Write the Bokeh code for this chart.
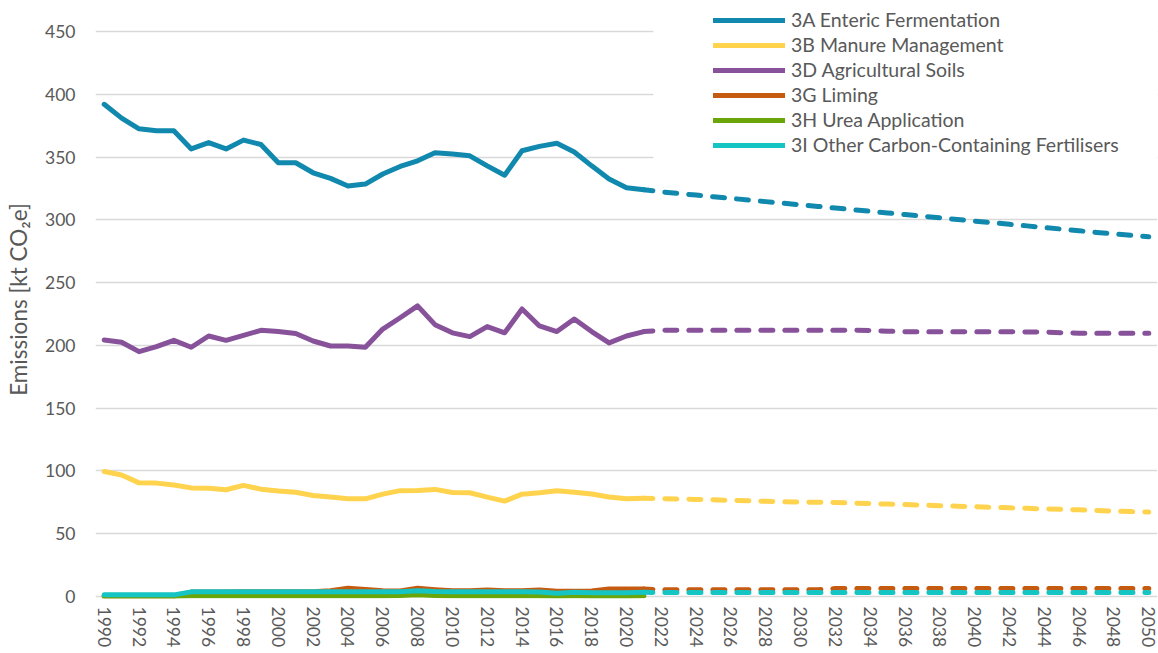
from bokeh.plotting import figure
from bokeh.models import Range1d, FixedTicker, Legend, LegendItem, BoxAnnotation
from bokeh.embed import file_html
from bokeh.resources import INLINE

# ---------------- data ----------------
hist_years = list(range(1990, 2022))
proj_years = list(range(2021, 2051))
tick_years = list(range(1990, 2051, 2))
y_ticks = [0, 50, 100, 150, 200, 250, 300, 350, 400, 450]

names = ["3A Enteric Fermentation", "3B Manure Management", "3D Agricultural Soils",
         "3G Liming", "3H Urea Application", "3I Other Carbon-Containing Fertilisers"]

enteric_hist = [392, 381, 372.5, 371, 371, 356.5, 361.5, 356.5, 363.5, 360, 345.5, 345.5,
                337.5, 333, 327, 328.5, 336.5, 342.5, 347, 353.5, 352.5, 351, 343, 335.5,
                355, 358.5, 361, 354, 343, 332.5, 325.5, 324]
enteric_proj = [324, 322.3, 321, 319.7, 318.4, 317.1, 315.8, 314.5, 313.2, 312, 310.7, 309.4,
                308.1, 306.8, 305.5, 304.2, 302.9, 301.6, 300.3, 299, 297.8, 296.5, 295.2,
                293.9, 292.6, 291.3, 290, 288.8, 287.6, 286.5]

manure_hist = [99.5, 96.8, 90.5, 90.3, 88.8, 86.5, 86.3, 85, 88.5, 85.5, 84, 83, 80.5, 79.3,
               77.8, 77.8, 81.5, 84.3, 84.5, 85.3, 82.8, 82.6, 79.2, 76, 81.5, 82.6, 84.2, 83,
               81.6, 79.2, 77.8, 78.2]
manure_proj = [78.2, 78, 77.6, 77.3, 77, 76.6, 76.2, 75.8, 75.4, 75.2, 75, 74.8, 74.4, 74,
               73.6, 73.2, 72.8, 72.3, 71.9, 71.5, 71.1, 70.6, 70.2, 69.8, 69.4, 69, 68.5, 68,
               67.6, 67.2]

soils_hist = [204.3, 202.5, 195, 199, 204, 198.5, 207.5, 204, 208, 212, 211, 209.5, 203.5,
              199.5, 199.5, 198.5, 213, 222, 231.5, 216.5, 210, 207, 215, 210, 229, 215.5,
              211, 221, 211, 202, 207.5, 211]
soils_proj = [211, 212.0, 212.1, 212.1, 212.1, 212.1, 212.1, 212.1, 212.1, 212.1, 212.1, 212.1,
              212.0, 211.9, 211.3, 210.9, 210.9, 210.9, 210.9, 210.8, 210.8, 210.8, 210.7,
              210.6, 210.1, 209.7, 209.7, 209.7, 209.7, 209.7]

liming_hist = [0.3, 0.3, 0.3, 0.3, 0.3, 3.5, 3.6, 3.6, 3.7, 3.7, 3.7, 3.7, 3.8, 4.5, 6.5, 5.5,
               4.6, 4.4, 6.5, 5.4, 4.6, 4.5, 5.2, 4.5, 4.5, 5.2, 4.2, 4.2, 4.3, 6, 6, 6]
liming_proj = [6, 5.3, 5.3, 5.3, 5.3, 5.3, 5.3, 5.3, 5.4, 5.4, 5.4, 6.3, 6.4, 6.4, 6.4, 6.4,
               6.4, 6.4, 6.4, 6.4, 6.4, 6.4, 6.4, 6.4, 6.4, 6.4, 6.4, 6.4, 6.4, 6.4]

urea_hist = [0.2, 0.2, 0.2, 0.2, 0.2, 0.6, 0.6, 0.6, 0.6, 0.6, 0.6, 0.6, 0.6, 0.6, 0.6, 0.6,
             0.6, 0.7, 1.3, 0.7, 0.6, 0.6, 0.6, 0.6, 0.6, 0.6, 0.4, 0.5, 0.4, 0.4, 0.4, 0.5]

other_hist = [1.3, 1.3, 1.3, 1.3, 1.3, 3.7, 3.8, 3.8, 3.8, 3.8, 3.8, 3.8, 3.8, 3.8, 3.8, 3.8,
              3.8, 3.8, 4.6, 3.9, 3.8, 3.8, 3.8, 3.8, 3.8, 3.6, 2.6, 3.4, 2.9, 2.9, 3.0, 3.3]
other_proj = [3.3, 3.2, 3.2, 3.2, 3.2, 3.2, 3.2, 3.2, 3.2, 3.2, 3.2, 3.2, 3.2, 3.2, 3.2, 3.2,
              3.2, 3.2, 3.2, 3.2, 3.2, 3.2, 3.2, 3.2, 3.2, 3.2, 3.2, 3.2, 3.2, 3.2]

colors = ["#1189AE", "#FFD34E", "#87529A", "#C55A11", "#6AA50A", "#14C5C4"]

# ---------------- figure ----------------
FONT = "Lato"
TXT = "#595959"

p = figure(frame_width=1062, frame_height=598, min_border_left=95, min_border_right=1,
           min_border_top=0, min_border_bottom=55,
           x_range=Range1d(1989.5, 2050.5), y_range=Range1d(-1.6, 474.7),
           output_backend="svg", toolbar_location=None)
p.outline_line_color = None
p.background_fill_color = "white"

p.xgrid.grid_line_color = None
p.ygrid.grid_line_color = "#D9D9D9"
p.ygrid.grid_line_width = 1.5
p.ygrid.ticker = FixedTicker(ticks=y_ticks)

p.yaxis.ticker = FixedTicker(ticks=y_ticks)
p.xaxis.ticker = FixedTicker(ticks=tick_years)
for ax in (p.xaxis[0], p.yaxis[0]):
    ax.axis_line_color = None
    ax.major_tick_line_color = None
    ax.minor_tick_line_color = None
    ax.major_tick_out = 0
    ax.major_tick_in = 0
    ax.major_label_text_font = FONT
    ax.major_label_text_font_size = "17.5px"
    ax.major_label_text_color = TXT
p.xaxis.major_label_orientation = "vertical"
p.xaxis.major_label_standoff = 8
p.yaxis.major_label_standoff = 20
p.yaxis.axis_label = "Emissions [kt CO\u2082e]"
p.yaxis.axis_label_text_font = FONT
p.yaxis.axis_label_text_font_size = "22.5px"
p.yaxis.axis_label_text_font_style = "normal"
p.yaxis.axis_label_text_color = TXT
p.yaxis.axis_label_standoff = 10

# white legend backdrop (covers gridlines like the original legend box)
backdrop = BoxAnnotation(left=558, right=1062, top=598, bottom=438,
                         left_units="screen", right_units="screen",
                         top_units="screen", bottom_units="screen",
                         fill_color="white", fill_alpha=1.0, line_alpha=0,
                         level="underlay")
p.add_layout(backdrop)

LW = 5
hist_series = [enteric_hist, manure_hist, soils_hist, liming_hist, urea_hist, other_hist]
proj_series = [enteric_proj, manure_proj, soils_proj, liming_proj, None, other_proj]

items = []
for name, col, h, pr in zip(names, colors, hist_series, proj_series):
    assert len(h) == len(hist_years)
    r = p.line(hist_years, h, line_color=col, line_width=LW,
               line_join="round", line_cap="round")
    if pr is not None:
        assert len(pr) == len(proj_years)
        p.line(proj_years, pr, line_color=col, line_width=LW, line_join="round",
               line_cap="round", line_dash="12 12", line_dash_offset=3)
    items.append(LegendItem(label=name, renderers=[r]))

legend = Legend(items=items, location=(618, 442), orientation="vertical",
                glyph_width=72, glyph_height=20, label_height=20, label_standoff=6,
                spacing=2, padding=0, margin=0,
                label_text_font=FONT, label_text_font_size="19.5px",
                label_text_color=TXT, background_fill_alpha=0,
                border_line_color=None)
p.add_layout(legend)

open("out.html", "w").write(file_html(p, INLINE))
